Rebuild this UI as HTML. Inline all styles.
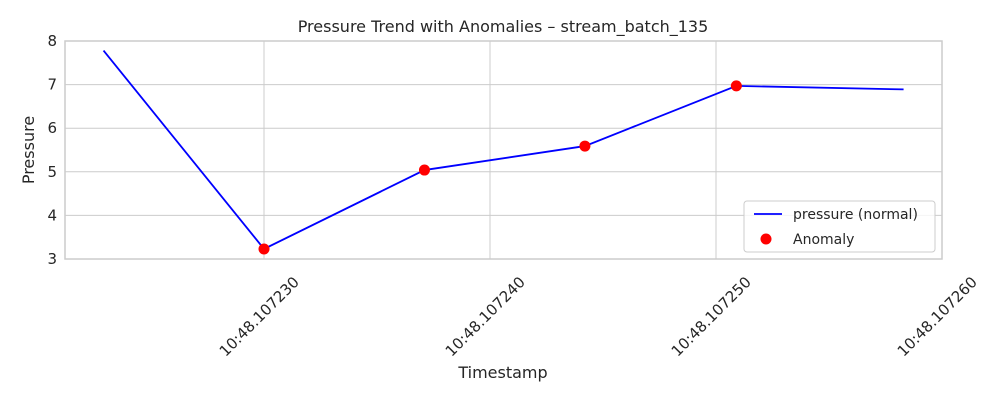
<!DOCTYPE html>
<html><head><meta charset="utf-8"><style>
body{margin:0;background:#fff;font-family:"Liberation Sans","DejaVu Sans",sans-serif;}
svg text{font-family:"DejaVu Sans","Liberation Sans",sans-serif;fill:#262626;}
</style></head><body>
<svg id="chart" width="1000" height="400" xmlns="http://www.w3.org/2000/svg">
<rect width="1000" height="400" fill="#fff"/>
<g id="grid"></g>
<g id="axes"></g>
<g id="marks"></g>
<text x="503" y="32" font-size="16" text-anchor="middle">Pressure Trend with Anomalies – stream_batch_135</text>
<text x="503" y="378" font-size="16" text-anchor="middle">Timestamp</text>
<text x="34" y="150" font-size="16" text-anchor="middle" transform="rotate(-90 34 150)">Pressure</text>
<g>
<rect x="744" y="201" width="191" height="51" rx="3" fill="#fff" fill-opacity="0.8" stroke="#ccc"/>
<line x1="754" y1="214" x2="782" y2="214" stroke="#0000ff" stroke-width="1.8"/>
<text x="793" y="219" font-size="14">pressure (normal)</text>
<circle cx="766" cy="239" r="5.5" fill="#ff0000"/>
<text x="793" y="244" font-size="14">Anomaly</text>
</g>
</svg>
<script>
// times in microseconds after 10:48.107000
const times = [222.9, 230.0, 237.1, 244.2, 250.9, 258.3];
const pressure = [7.78, 3.23, 5.04, 5.59, 6.97, 6.89];
const anomalyIdx = [1, 2, 3, 4];
const xTicks = [230, 240, 250, 260];
const xTickLabels = ["10:48.107230", "10:48.107240", "10:48.107250", "10:48.107260"];
const yTicks = [3, 4, 5, 6, 7, 8];

const L = 65, R = 942, T = 41, B = 259;
const xs = t => 264 + (t - 230) * (942 - 264) / 30;
const ys = v => B - (v - 3) * (B - T) / 5;
const NS = "http://www.w3.org/2000/svg";
function mk(tag, attrs, parent) {
  const e = document.createElementNS(NS, tag);
  for (const k in attrs) e.setAttribute(k, attrs[k]);
  document.getElementById(parent).appendChild(e);
  return e;
}
yTicks.forEach(v => {
  const g = mk("line", {x1: L, x2: R, y1: ys(v), y2: ys(v), stroke: "#cccccc", "stroke-width": 1}, "grid");
  
  
  const t = mk("text", {x: L - 8, y: ys(v) + 5, "text-anchor": "end", "font-size": 15}, "axes");
  t.textContent = v;
  
  
});
xTicks.forEach((v, i) => {
  const x = xs(v);
  const g = mk("line", {x1: x, x2: x, y1: T, y2: B, stroke: "#cccccc", "stroke-width": 1}, "grid");
  
  
  const ax = x + 36, ay = B + 24;
  const t = mk("text", {x: ax, y: ay, "text-anchor": "end", "font-size": 15, transform: `rotate(-45 ${ax} ${ay})`}, "axes");
  t.textContent = xTickLabels[i];
  
  
});
const frame = mk("rect", {x: L, y: T, width: R - L, height: B - T, fill: "none", stroke: "#cccccc", "stroke-width": 1.5}, "axes");


const pts = times.map((t, i) => xs(t) + "," + ys(pressure[i])).join(" ");
const line = mk("polyline", {points: pts, fill: "none", stroke: "#0000ff", "stroke-width": 1.8}, "marks");


anomalyIdx.forEach(i => {
  const c = mk("circle", {cx: xs(times[i]), cy: ys(pressure[i]), r: 5.5, fill: "#ff0000"}, "marks");
  
  
});
</script>
</body></html>
